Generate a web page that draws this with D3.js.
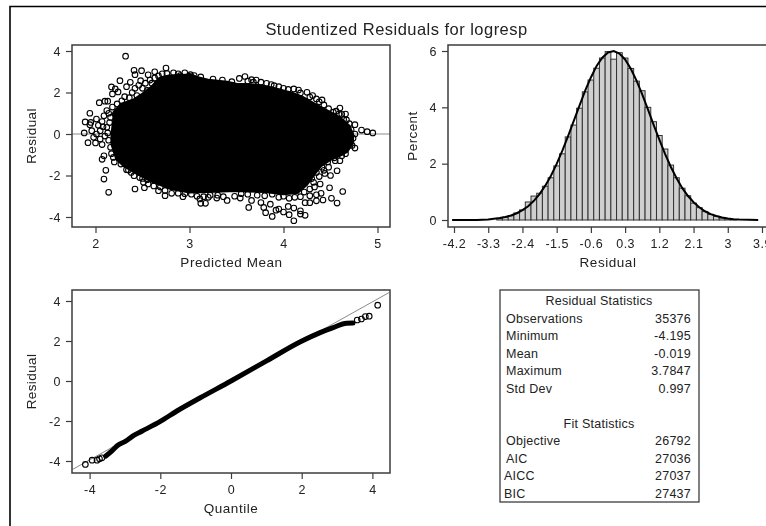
<!DOCTYPE html>
<html><head><meta charset="utf-8">
<script src="https://cdn.jsdelivr.net/npm/d3@7"></script>
<style>
html,body{margin:0;padding:0;background:#fff;overflow:hidden}
svg{display:block;filter:blur(0.4px)}
text{font-family:"Liberation Sans",Arial,sans-serif;fill:#222}
</style></head><body>
<svg id="c" width="766" height="526"></svg>
<script>
// ---------- data ----------
const title = "Studentized Residuals for logresp";
const scatterXTicks = [2,3,4,5];
const residualTicks = [-4,-2,0,2,4];
const blobUpper = [[2.17,0],[2.2,1.1],[2.27,1.45],[2.4,1.65],[2.5,1.95],[2.6,2.3],[2.68,2.7],[2.78,2.82],[2.95,2.85],[3.0,2.9],[3.1,2.72],[3.2,2.62],[3.4,2.52],[3.5,2.42],[3.7,2.38],[3.9,2.22],[4.1,1.98],[4.2,1.8],[4.35,1.42],[4.5,1.05],[4.6,0.8],[4.7,0.4],[4.74,0]];
const blobLower = [[4.74,-0.4],[4.68,-0.85],[4.6,-1.05],[4.5,-1.25],[4.4,-1.55],[4.33,-1.95],[4.25,-2.45],[4.15,-2.85],[4.0,-2.9],[3.8,-2.8],[3.5,-2.75],[3.2,-2.8],[3.0,-2.82],[2.8,-2.65],[2.6,-2.3],[2.45,-1.95],[2.3,-1.55],[2.22,-1.2],[2.17,-0.5]];
const scatterOutliers = [[2.32,3.75],[2.41,3.07],[2.49,3.05],[2.63,3.0],[2.75,3.18],[2.42,2.86],[2.56,2.85],[2.26,2.57],[2.17,2.27],[2.21,2.17],[2.04,1.51],[2.10,1.58],[2.13,1.58],[1.94,1.0],[1.89,0.58],[1.95,0.56],[2.18,1.93],[2.24,2.03],[2.33,2.28],[2.37,2.49],[2.48,2.57],[1.88,0.05],[1.92,-0.42],[2.0,-0.43],[2.07,-0.51],[2.07,-1.22],[2.11,-1.75],[2.09,-2.17],[2.14,-2.81],[2.42,-2.65],[2.41,-2.01],[2.35,-1.74],[2.5,-2.14],[2.52,-2.59],[2.51,-2.33],[2.56,-2.41],[2.09,-1.05],[1.94,0.45],[2.01,0.72],[1.96,0.16],[2.05,0.16],[2.12,1.13],[2.21,0.96],[2.01,0],[1.98,-0.16],[2.05,-0.24],[2.12,0.32],[2.16,0.8],[2.09,0.88],[2.16,-0.64],[2.19,-1.13],[2.74,-2.97],[2.67,-2.73],[2.81,-2.86],[2.93,-3.02],[3.12,-3.34],[3.17,-3.34],[3.11,-3.13],[3.2,-3.05],[3.4,-3.2],[3.29,-3.09],[3.54,-3.09],[3.63,-3.54],[3.66,-3.2],[3.76,-3.3],[3.79,-3.54],[3.81,-3.79],[3.88,-3.97],[3.86,-3.38],[3.92,-3.67],[3.95,-3.62],[4.0,-3.76],[4.06,-3.89],[4.11,-4.18],[4.05,-3.49],[4.11,-3.57],[4.18,-3.7],[4.18,-3.86],[4.23,-3.92],[4.23,-3.31],[4.28,-3.31],[4.28,-2.97],[4.35,-3.22],[4.35,-2.93],[4.4,-2.86],[4.42,-3.18],[4.51,-3.1],[4.57,-3.33],[4.63,-2.77],[4.49,-2.59],[4.41,1.64],[4.31,1.85],[4.35,1.69],[4.25,2.01],[4.16,2.12],[4.11,2.17],[4.6,1.25],[4.59,0.96],[4.66,0.96],[4.67,0.68],[4.76,0.45],[4.83,0.19],[4.89,0.11],[4.95,0.05],[4.76,0],[4.76,-0.68],[4.71,-0.51],[4.53,1.05],[4.6,-1.29],[4.55,-1.29],[4.57,-1.77],[4.5,-2.0],[4.44,-1.9],[4.35,-1.85],[4.41,-1.6],[4.48,-1.6],[4.32,-2.33],[4.39,-2.41],[3.53,2.68],[3.59,2.77],[3.66,2.62],[3.71,2.6],[3.82,2.44],[3.95,2.28],[3.01,2.86],[2.9,2.81]];
const scatterEdge = [[2.28,1.6],[2.31,1.8],[2.36,1.75],[2.39,2.0],[2.42,2.2],[2.44,1.85],[2.46,2.35],[2.5,2.2],[2.53,2.45],[2.55,2.1],[2.58,2.6],[2.6,2.45],[2.63,2.7],[2.67,2.8],[2.71,2.9],[2.76,2.92],[2.83,2.95],[2.88,2.9],[2.95,2.95],[3.05,2.82],[3.12,2.75],[3.25,2.65],[3.35,2.6],[3.45,2.52],[3.62,2.55],[3.68,2.5],[3.76,2.5],[3.87,2.38],[3.9,2.33],[4.0,2.2],[4.05,2.15],[4.18,1.98],[4.28,1.78],[4.38,1.55],[4.43,1.4],[4.48,1.22],[4.56,1.1],[4.62,0.95],[4.64,0.7],[4.7,0.5],[4.72,0.2],[4.74,-0.2],[4.73,-0.55],[4.66,-0.95],[4.62,-1.05],[4.54,-1.15],[4.47,-1.35],[4.43,-1.75],[4.38,-2.05],[4.3,-2.15],[4.33,-2.55],[4.28,-2.65],[4.22,-2.8],[4.18,-3.02],[4.12,-3.05],[4.06,-3.1],[4.0,-3.0],[3.95,-3.05],[3.88,-2.9],[3.8,-2.98],[3.72,-2.95],[3.62,-2.9],[3.55,-2.88],[3.48,-3.0],[3.36,-3.02],[3.3,-2.95],[3.22,-2.95],[3.15,-3.02],[3.08,-3.0],[3.02,-2.9],[2.95,-2.88],[2.88,-2.85],[2.74,-2.72],[2.69,-2.55],[2.62,-2.5],[2.55,-2.2],[2.47,-2.1],[2.38,-1.85],[2.33,-1.72],[2.27,-1.45],[2.2,-1.35],[2.17,-0.95],[2.14,-0.3],[2.13,0.05],[2.15,0.55],[2.08,0.35],[2.1,-0.1],[2.03,0.42],[2.18,1.3],[2.23,1.45],[2.14,1.0],[2.07,0.6]];

const histTickLabels = [-4.2,-3.3,-2.4,-1.5,-0.6,0.3,1.2,2.1,3,3.9];
const percentTicks = [0,2,4,6];
const binMid = [-3.0,-2.85,-2.7,-2.55,-2.4,-2.25,-2.1,-1.95,-1.8,-1.65,-1.5,-1.35,-1.2,-1.05,-0.9,-0.75,-0.6,-0.45,-0.3,-0.15,0,0.15,0.3,0.45,0.6,0.75,0.9,1.05,1.2,1.35,1.5,1.65,1.8,1.95,2.1,2.25,2.4,2.55,2.7,2.85,3.0,3.15];
const binPct = [0.05,0.1,0.15,0.25,0.36,0.64,0.85,0.95,1.2,1.5,1.92,2.35,2.95,3.37,3.97,4.55,4.97,5.39,5.75,5.98,5.71,5.94,5.75,5.38,4.93,4.59,4.0,3.49,3.0,2.52,1.95,1.5,1.13,0.86,0.6,0.44,0.3,0.2,0.13,0.07,0.05,0.02];
const curveX = [-4.25,-3.6,-3.3,-3.0,-2.85,-2.7,-2.55,-2.4,-2.25,-2.1,-1.95,-1.8,-1.65,-1.5,-1.35,-1.2,-1.05,-0.9,-0.75,-0.6,-0.45,-0.3,-0.15,0,0.15,0.3,0.45,0.6,0.75,0.9,1.05,1.2,1.35,1.5,1.65,1.8,1.95,2.1,2.25,2.4,2.55,2.7,2.85,3.0,3.15,3.3,3.8];
const curveY = [0,0.0,0.02,0.07,0.11,0.16,0.24,0.35,0.49,0.68,0.92,1.22,1.57,1.99,2.46,2.98,3.52,4.06,4.59,5.06,5.47,5.76,5.95,6.0,5.91,5.70,5.37,4.95,4.46,3.93,3.38,2.85,2.35,1.89,1.49,1.14,0.86,0.63,0.45,0.31,0.21,0.14,0.09,0.055,0.03,0.015,0];

const qqTicks = [-4,-2,0,2,4];
const qqBand = [[-3.55,-3.76],[-3.36,-3.48],[-3.22,-3.24],[-2.99,-3.02],[-2.75,-2.72],[-2.51,-2.5],[-2,-2.02],[-1.53,-1.5],[-0.87,-0.84],[0,0],[1.02,1.02],[1.95,1.95],[2.52,2.42],[2.89,2.67],[3.27,2.89],[3.45,2.9]];
const qqTail = [[-4.12,-4.17],[-3.93,-3.96],[-3.79,-3.96],[-3.72,-3.89],[-3.65,-3.84],[3.57,3.05],[3.69,3.1],[3.8,3.22],[3.91,3.24],[4.15,3.79]];
const qqRefLine = [[-4.48,-4.42],[4.47,4.42]];

const residLabels = ["Observations","Minimum","Mean","Maximum","Std Dev"];
const residValues = ["35376","-4.195","-0.019","3.7847","0.997"];
const fitLabels = ["Objective","AIC","AICC","BIC"];
const fitValues = ["26792","27036","27037","27437"];

// ---------- drawing ----------
const svg = d3.select("#c");
const INK = "#3c3c3c";
svg.append("path").attr("d","M766 6.5H10V526").attr("fill","none").attr("stroke","#000").attr("stroke-width",1.6);
svg.append("text").attr("x",396.5).attr("y",34.5).attr("text-anchor","middle")
  .style("font-size","16.5px").style("letter-spacing","0.47px").text(title);

function panel(box, xs, ys, xTicks, yTicks, xLabel, yLabel){
  const g = svg.append("g");
  const ax = g.append("g").attr("transform",`translate(0,${box.b})`)
    .call(d3.axisBottom(xs).tickValues(xTicks).tickSize(6).tickPadding(6).tickFormat(d=>String(d)));
  const ay = g.append("g").attr("transform",`translate(${box.l},0)`)
    .call(d3.axisLeft(ys).tickValues(yTicks).tickSize(6).tickPadding(5).tickFormat(d=>String(d)));
  [ax,ay].forEach(a=>{
    a.select(".domain").remove();
    a.selectAll("line").attr("stroke",INK).attr("stroke-width",1.2);
    a.selectAll("text").style("font-family",'"Liberation Sans",Arial,sans-serif').style("font-size","12.5px").style("letter-spacing","0.5px").attr("fill","#222");
  });
  g.append("text").attr("x",(xs(xTicks[0])+xs(xTicks[xTicks.length-1]))/2+box.xlo).attr("y",box.b+40).attr("text-anchor","middle")
    .style("font-size","13.5px").style("letter-spacing","0.55px").text(xLabel);
  g.append("text").attr("transform",`translate(${box.l-box.ylo},${(box.t+box.b)/2}) rotate(-90)`).attr("text-anchor","middle")
    .style("font-size","13.5px").style("letter-spacing","0.4px").text(yLabel);
  return g;
}
function frame(box){
  svg.append("rect").attr("x",box.l).attr("y",box.t).attr("width",box.r-box.l).attr("height",box.b-box.t)
    .attr("fill","none").attr("stroke",INK).attr("stroke-width",1.5);
}
function rings(g,pts,x,y){
  g.selectAll(null).data(pts).join("circle").attr("cx",d=>x(d[0])).attr("cy",d=>y(d[1])).attr("r",2.8)
    .attr("fill","none").attr("stroke","#000").attr("stroke-width",1.1);
}

// Scatter
const b1={l:72,r:390,t:45,b:227,xlo:-5,ylo:36};
const x1=d3.scaleLinear().domain([2,5]).range([95.5,377.5]);
const y1=d3.scaleLinear().domain([-4,4]).range([217,51]);
panel(b1,x1,y1,scatterXTicks,residualTicks,"Predicted Mean","Residual");
svg.append("line").attr("x1",b1.l).attr("x2",b1.r).attr("y1",y1(0)).attr("y2",y1(0)).attr("stroke","#8a8a8a");
svg.append("path").datum(blobUpper.concat(blobLower))
  .attr("d",d3.line().x(d=>x1(d[0])).y(d=>y1(d[1])).curve(d3.curveLinearClosed))
  .attr("fill","#000").attr("stroke","#000").attr("stroke-width",2);
rings(svg.append("g"),scatterOutliers.concat(scatterEdge),x1,y1);
frame(b1);

// Histogram
const b2={l:448,r:790,t:45,b:227,xlo:0,ylo:31};
const x2=d3.scaleLinear().domain([-4.2,3.9]).range([454,762]);
const y2=d3.scaleLinear().domain([0,6]).range([220,51]);
panel(b2,x2,y2,histTickLabels,percentTicks,"Residual","Percent");
const binW=0.15;
svg.append("g").selectAll("rect").data(binMid).join("rect")
  .attr("x",d=>x2(d-binW/2)).attr("width",d=>x2(d+binW/2)-x2(d-binW/2))
  .attr("y",(d,i)=>y2(binPct[i])).attr("height",(d,i)=>y2(0)-y2(binPct[i]))
  .attr("fill","#cfcfcf").attr("stroke","#333").attr("stroke-width",1);
svg.append("path").datum(curveX.map((d,i)=>[d,curveY[i]]))
  .attr("d",d3.line().x(d=>x2(d[0])).y(d=>y2(d[1])))
  .attr("fill","none").attr("stroke","#000").attr("stroke-width",2);
frame(b2);

// QQ
const b3={l:72,r:390,t:290,b:473,xlo:0,ylo:36};
const x3=d3.scaleLinear().domain([-4,4]).range([89.6,372.4]);
const y3=d3.scaleLinear().domain([-4,4]).range([461,301]);
panel(b3,x3,y3,qqTicks,residualTicks,"Quantile","Residual");
svg.append("path").datum(qqRefLine).attr("d",d3.line().x(d=>x3(d[0])).y(d=>y3(d[1])))
  .attr("stroke","#8a8a8a").attr("fill","none");
svg.append("path").datum(qqBand).attr("d",d3.line().x(d=>x3(d[0])).y(d=>y3(d[1])).curve(d3.curveMonotoneX))
  .attr("stroke","#000").attr("fill","none").attr("stroke-width",5).attr("stroke-linecap","round");
rings(svg.append("g"),qqTail,x3,y3);
frame(b3);

// Statistics table
svg.append("rect").attr("x",500).attr("y",290).attr("width",199).attr("height",212)
  .attr("fill","#fff").attr("stroke",INK).attr("stroke-width",1.3);
function tableText(x,y,t,anchor){
  svg.append("text").attr("x",x).attr("y",y).attr("text-anchor",anchor||"start")
    .style("font-size","12.5px").style("letter-spacing","0.25px").text(t);
}
const rowY=d3.scalePoint().domain(d3.range(12).map(String)).range([305,498]);
tableText(599,rowY("0"),"Residual Statistics","middle");
residLabels.forEach((l,i)=>{const y=rowY(String(i+1));tableText(506,y,l);tableText(691,y,residValues[i],"end");});
tableText(599,rowY("7"),"Fit Statistics","middle");
fitLabels.forEach((l,i)=>{const y=rowY(String(i+8));tableText(i>=2?504:506,y,l);tableText(691,y,fitValues[i],"end");});
</script>
</body></html>
